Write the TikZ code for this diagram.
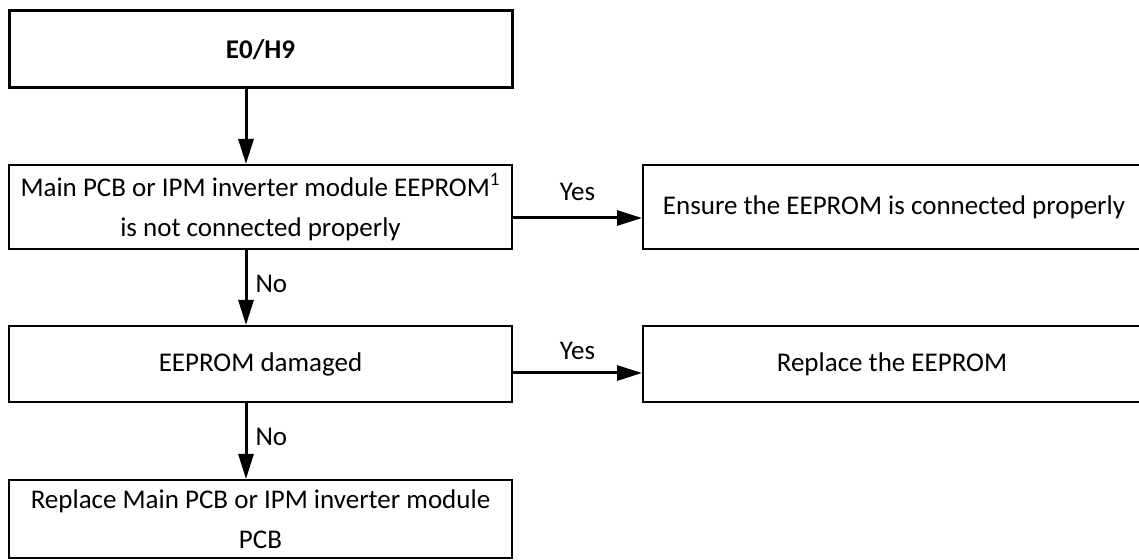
\documentclass[tikz,border=0pt]{standalone}
\usepackage{fontspec}
\setmainfont{Carlito}
\usetikzlibrary{arrows.meta,calc}
\begin{document}
\begin{tikzpicture}[x=0.5pt,y=-0.5pt,
  box/.style={draw=black,line width=1pt,rectangle,inner sep=0pt,align=center,
    font=\fontsize{13.5}{20}\selectfont},
  lbl/.style={font=\fontsize{13.5}{20}\selectfont,inner sep=0pt},
  arr/.style={line width=1.5pt,-{Triangle[length=12.5pt,width=7.5pt]}}]
\useasboundingbox (0,0) rectangle (1139,560);
\node[box,line width=1.5pt,minimum width=251.5pt,minimum height=38.5pt] (b1) at (260.5,49.5) {\textbf{E0/H9}};
\node[box,minimum width=251.5pt,minimum height=42pt] (b2) at (260.5,207) {Main PCB or IPM inverter module EEPROM\textsuperscript{1}\\is not connected properly};
\node[box,minimum width=249pt,minimum height=42pt] (r1) at (892,207) {\hspace*{2pt}Ensure the EEPROM is connected properly};
\node[box,minimum width=251.5pt,minimum height=38pt] (b3) at (260.5,364) {EEPROM damaged};
\node[box,minimum width=249pt,minimum height=38pt] (r2) at (892,364) {Replace the EEPROM};
\node[box,minimum width=251.5pt,minimum height=39pt] (b4) at (260.5,519) {Replace Main PCB or IPM inverter module\\PCB};
\coordinate (ax) at (246,0);
\coordinate (y1) at (0,218);
\coordinate (y2) at (0,373);
\draw[arr] (b1.south -| ax) -- (b2.north -| ax);
\draw[arr] (b2.south -| ax) -- node[lbl,right=4pt,pos=0.45] (n1) {No} (b3.north -| ax);
\draw[arr] (b3.south -| ax) -- node[lbl,right=4pt,pos=0.45] (n2) {No} (b4.north -| ax);
\draw[arr] (b2.east |- y1) -- node[lbl,above=8pt] (yes1) {Yes} (r1.west |- y1);
\draw[arr] (b3.east |- y2) -- node[lbl,above=6pt] (yes2) {Yes} (r2.west |- y2);
\end{tikzpicture}
\end{document}
